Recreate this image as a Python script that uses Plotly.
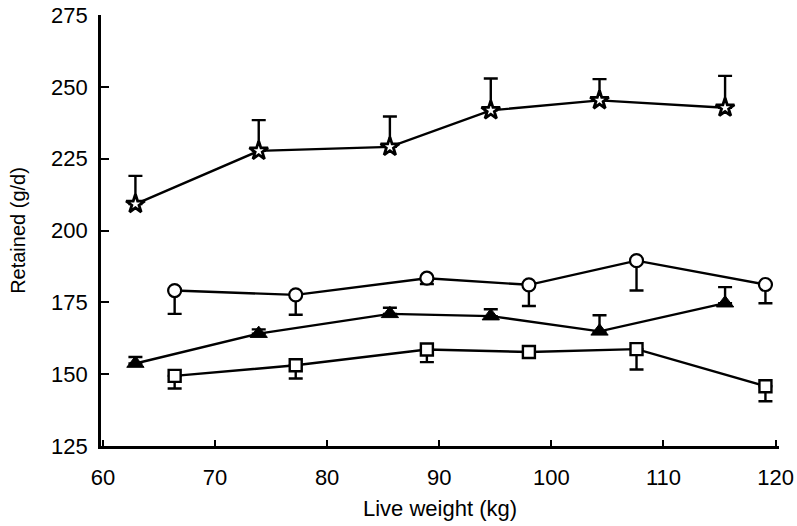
import plotly.graph_objects as go

# x positions (kg)
x_a = [62.9, 73.9, 85.6, 94.6, 104.3, 115.5]   # stars & triangles
x_b = [66.4, 77.2, 88.9, 98.0, 107.6, 119.1]   # circles & squares

star_y = [209.2, 227.7, 229.1, 241.8, 245.3, 242.7]
star_err = [9.8, 10.7, 10.6, 11.1, 7.4, 11.1]

circle_y = [179.1, 177.6, 183.4, 181.1, 189.5, 181.2]
circle_err = [8.1, 6.9, 2.0, 7.4, 10.4, 6.5]

tri_y = [153.7, 164.1, 171.0, 170.2, 164.9, 174.7]
tri_err = [2.3, 1.5, 2.1, 2.4, 5.6, 5.6]

sq_y = [149.4, 153.1, 158.6, 157.7, 158.7, 145.8]
sq_err = [4.4, 4.6, 4.4, 0.0, 7.1, 5.2]

x_ticks = [60, 70, 80, 90, 100, 110, 120]
y_ticks = [125, 150, 175, 200, 225, 250, 275]

fig = go.Figure()

def add(x, y, err, up, symbol, size, fill, lw):
    zeros = [0] * len(err)
    fig.add_trace(go.Scatter(
        x=x, y=y, mode="lines+markers",
        line=dict(color="black", width=2.4),
        marker=dict(symbol=symbol, size=size, color=fill,
                    line=dict(color="black", width=lw)),
        error_y=dict(type="data", symmetric=False,
                     array=err if up else zeros,
                     arrayminus=zeros if up else err,
                     color="black", thickness=2.4, width=7),
        showlegend=False,
    ))

add(x_a, star_y, star_err, True, "star", 14, "white", 2.8)
add(x_b, circle_y, circle_err, False, "circle", 13, "white", 2.2)
add(x_a, tri_y, tri_err, True, "triangle-up", 15, "black", 1)
add(x_b, sq_y, sq_err, False, "square", 12, "white", 2.4)

font_family = "Liberation Sans, Arial, sans-serif"

fig.update_layout(
    width=797, height=526,
    margin=dict(l=101, r=18, t=15, b=80),
    paper_bgcolor="white", plot_bgcolor="white",
    font=dict(family=font_family, color="black", size=22),
    xaxis=dict(
        range=[59.83, 120.31], tickvals=x_ticks,
        automargin=False,
        showline=True, linecolor="black", linewidth=2.8,
        ticks="inside", ticklen=6, tickwidth=2, tickcolor="black",
        showgrid=False, zeroline=False,
        ticklabelstandoff=10,
        ticklabeloverflow="allow",
        tickfont=dict(size=22),
        title=dict(text="Live weight (kg)", font=dict(size=22), standoff=12),
    ),
    yaxis=dict(
        range=[125, 275], tickvals=y_ticks,
        automargin=False,
        showline=True, linecolor="black", linewidth=2.8,
        ticks="inside", ticklen=8, tickwidth=2, tickcolor="black",
        showgrid=False, zeroline=False,
        ticklabelstandoff=6,
        ticklabeloverflow="allow",
        tickfont=dict(size=22),
        title=dict(text="Retained (g/d)", font=dict(size=20), standoff=20),
    ),
)

# remove the page's default body margin so the figure sits at the window origin
fig.write_html("out.html",
               config={"displayModeBar": False},
               post_script="document.body.style.margin='0';document.body.style.overflow='hidden';")
